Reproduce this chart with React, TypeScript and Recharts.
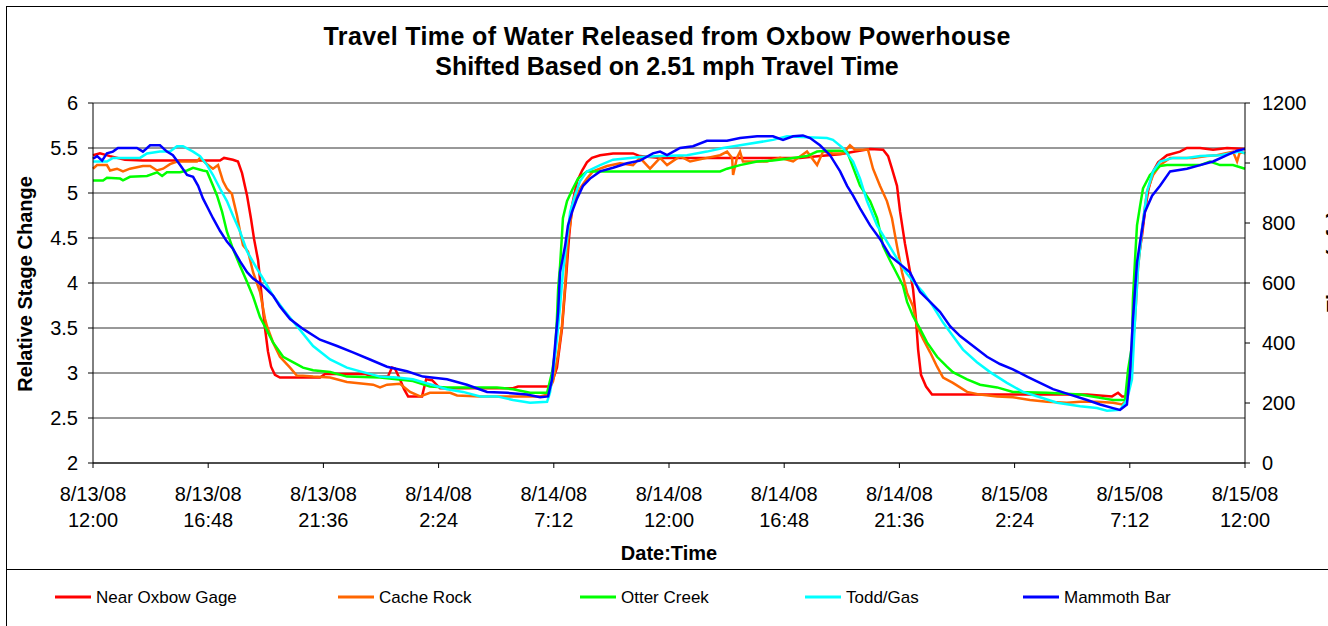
import React from 'react';
import { LineChart, Line, XAxis, YAxis, CartesianGrid } from 'recharts';

// hours after 8/13/08 12:00, relative stage change
const nearOxbowGage: [number, number][] = [
  [0, 5.42], [0.29, 5.44], [0.71, 5.41], [1.33, 5.37], [2.08, 5.36], [5.29, 5.36], [5.46, 5.39], [5.83, 5.37],
  [6.04, 5.35], [6.21, 5.22], [6.42, 4.97], [6.58, 4.72], [6.71, 4.49], [6.88, 4.25], [7.0, 3.93], [7.08, 3.71],
  [7.17, 3.49], [7.29, 3.24], [7.42, 3.07], [7.58, 2.98], [7.79, 2.95], [9.46, 2.95], [9.67, 2.99], [11.33, 2.99],
  [11.63, 2.96], [12.29, 2.96], [12.46, 3.06], [12.58, 3.05], [12.79, 2.93], [12.96, 2.82], [13.13, 2.74],
  [13.71, 2.74], [13.88, 2.93], [14.13, 2.92], [14.46, 2.83], [17.5, 2.83], [17.71, 2.85], [19.04, 2.85],
  [19.17, 2.93], [19.33, 3.06], [19.54, 3.49], [19.71, 4.05], [19.83, 4.49], [19.96, 4.86], [20.17, 5.13],
  [20.38, 5.25], [20.58, 5.34], [20.79, 5.39], [21.13, 5.42], [21.67, 5.44], [22.5, 5.44], [22.79, 5.41],
  [23.63, 5.39], [29.46, 5.39], [30.29, 5.41], [31.13, 5.43], [31.75, 5.46], [32.38, 5.49], [32.92, 5.48],
  [33.13, 5.41], [33.29, 5.27], [33.5, 5.08], [33.63, 4.79], [33.83, 4.44], [34.04, 4.13], [34.17, 3.93],
  [34.29, 3.6], [34.38, 3.26], [34.5, 2.98], [34.71, 2.85], [34.96, 2.76], [41.42, 2.76], [42.46, 2.74],
  [42.71, 2.78], [42.88, 2.74], [43.04, 2.74], [43.17, 2.87], [43.29, 3.23], [43.42, 3.74], [43.54, 4.23],
  [43.71, 4.53], [43.83, 4.79], [43.96, 5.02], [44.17, 5.24], [44.38, 5.34], [44.75, 5.42], [45.29, 5.46],
  [45.58, 5.5], [46.13, 5.5], [46.67, 5.48], [47.25, 5.5], [48, 5.49],
];

const cacheRock: [number, number][] = [
  [0, 5.27], [0.17, 5.31], [0.58, 5.31], [0.71, 5.25], [1.0, 5.27], [1.25, 5.24], [1.54, 5.27], [2.08, 5.3],
  [2.38, 5.3], [2.67, 5.25], [2.92, 5.27], [3.21, 5.32], [3.5, 5.35], [4.33, 5.35], [4.46, 5.39], [4.75, 5.32],
  [5.0, 5.27], [5.21, 5.31], [5.29, 5.24], [5.42, 5.13], [5.58, 5.05], [5.79, 4.99], [5.83, 4.94], [6.0, 4.75],
  [6.13, 4.57], [6.25, 4.42], [6.46, 4.35], [6.67, 4.12], [6.96, 3.9], [7.17, 3.6], [7.25, 3.52], [7.5, 3.34],
  [7.79, 3.18], [8.21, 3.06], [8.5, 2.97], [8.75, 2.97], [9.17, 2.96], [9.88, 2.95], [10.58, 2.9], [11.67, 2.87],
  [11.96, 2.84], [12.25, 2.87], [12.79, 2.88], [13.21, 2.79], [13.63, 2.74], [14.04, 2.78], [14.88, 2.78],
  [15.17, 2.75], [16.13, 2.74], [18.63, 2.74], [18.92, 2.76], [19.17, 2.91], [19.38, 3.21], [19.54, 3.52],
  [19.67, 3.97], [19.79, 4.49], [20.0, 4.86], [20.29, 5.05], [20.58, 5.16], [20.83, 5.24], [21.42, 5.3],
  [21.96, 5.33], [22.5, 5.31], [22.79, 5.39], [23.21, 5.27], [23.63, 5.39], [23.92, 5.31], [24.46, 5.41],
  [24.88, 5.35], [25.58, 5.39], [26.13, 5.42], [26.42, 5.46], [26.63, 5.39], [26.67, 5.2], [26.83, 5.39],
  [26.96, 5.46], [27.08, 5.35], [27.5, 5.35], [28.08, 5.35], [28.63, 5.39], [29.17, 5.35], [29.75, 5.46],
  [30.17, 5.31], [30.42, 5.46], [30.83, 5.44], [31.25, 5.44], [31.54, 5.53], [31.75, 5.48], [32.29, 5.48],
  [32.5, 5.27], [32.79, 5.08], [33.08, 4.91], [33.29, 4.72], [33.5, 4.41], [33.71, 4.12], [33.92, 3.89],
  [34.17, 3.74], [34.33, 3.52], [34.58, 3.38], [34.88, 3.23], [35.17, 3.07], [35.42, 2.95], [35.83, 2.89],
  [36.42, 2.79], [36.96, 2.76], [37.67, 2.74], [38.33, 2.73], [39.04, 2.7], [39.75, 2.68], [40.58, 2.67],
  [41.13, 2.68], [41.83, 2.68], [42.5, 2.67], [42.88, 2.65], [43.08, 2.7], [43.13, 2.94], [43.29, 3.23],
  [43.42, 3.6], [43.54, 4.16], [43.71, 4.6], [43.92, 5.02], [44.17, 5.2], [44.46, 5.31], [44.88, 5.39],
  [45.83, 5.39], [46.42, 5.41], [46.83, 5.42], [47.5, 5.46], [47.67, 5.35], [47.79, 5.46], [48, 5.44],
];

const otterCreek: [number, number][] = [
  [0, 5.14], [0.42, 5.14], [0.58, 5.17], [1.13, 5.16], [1.25, 5.14], [1.54, 5.18], [2.25, 5.19], [2.67, 5.23],
  [2.88, 5.19], [3.08, 5.23], [3.63, 5.23], [3.92, 5.25], [4.17, 5.28], [4.58, 5.25], [4.75, 5.24], [5.0, 5.08],
  [5.17, 4.97], [5.38, 4.79], [5.58, 4.57], [5.83, 4.38], [6.13, 4.19], [6.42, 4.01], [6.67, 3.85], [6.96, 3.62],
  [7.08, 3.56], [7.5, 3.34], [7.92, 3.18], [8.33, 3.12], [8.75, 3.06], [9.17, 3.03], [9.88, 3.01], [10.58, 2.96],
  [11.96, 2.95], [13.33, 2.91], [14.04, 2.85], [14.75, 2.84], [16.83, 2.84], [17.5, 2.82], [18.21, 2.78],
  [18.92, 2.78], [19.13, 3.01], [19.25, 3.23], [19.33, 3.6], [19.38, 3.93], [19.46, 4.19], [19.54, 4.53],
  [19.58, 4.72], [19.75, 4.91], [19.96, 5.03], [20.21, 5.16], [20.58, 5.24], [26.13, 5.24], [26.42, 5.27],
  [26.96, 5.31], [27.67, 5.35], [28.33, 5.36], [29.17, 5.39], [29.75, 5.41], [30.17, 5.46], [30.58, 5.47],
  [31.13, 5.47], [31.42, 5.46], [31.96, 5.08], [32.38, 4.91], [32.67, 4.72], [32.92, 4.41], [33.21, 4.25],
  [33.5, 4.1], [33.75, 3.97], [33.92, 3.79], [34.17, 3.63], [34.46, 3.49], [34.75, 3.34], [35.17, 3.18],
  [35.58, 3.07], [35.83, 3.01], [36.42, 2.93], [36.96, 2.87], [37.67, 2.84], [38.33, 2.79], [39.75, 2.78],
  [41.13, 2.76], [41.83, 2.73], [42.5, 2.7], [43.0, 2.7], [43.13, 3.04], [43.29, 3.3], [43.33, 3.82],
  [43.42, 4.27], [43.5, 4.64], [43.63, 4.86], [43.75, 5.05], [44.04, 5.2], [44.46, 5.3], [44.75, 5.31],
  [46.13, 5.31], [46.54, 5.35], [46.96, 5.31], [47.5, 5.31], [48, 5.27],
];

const toddGas: [number, number][] = [
  [0, 5.35], [0.58, 5.35], [0.83, 5.39], [1.96, 5.39], [2.25, 5.44], [2.79, 5.46], [3.21, 5.46], [3.5, 5.52],
  [3.75, 5.52], [4.17, 5.46], [4.46, 5.41], [4.75, 5.31], [5.0, 5.2], [5.29, 5.05], [5.58, 4.91], [5.83, 4.75],
  [6.13, 4.57], [6.42, 4.35], [6.83, 4.16], [7.08, 4.05], [7.5, 3.86], [7.92, 3.71], [8.5, 3.52], [9.17, 3.3],
  [9.88, 3.15], [10.58, 3.06], [11.25, 3.01], [11.96, 2.96], [12.67, 2.95], [13.33, 2.93], [14.75, 2.82],
  [15.42, 2.79], [16.13, 2.74], [16.83, 2.74], [17.5, 2.7], [18.21, 2.67], [18.92, 2.68], [19.04, 2.78],
  [19.17, 3.01], [19.33, 3.37], [19.46, 3.74], [19.58, 4.12], [19.75, 4.49], [19.88, 4.79], [20.08, 4.97],
  [20.29, 5.13], [20.58, 5.24], [21.13, 5.31], [21.67, 5.37], [22.79, 5.4], [23.63, 5.41], [24.75, 5.42],
  [25.58, 5.46], [26.25, 5.5], [26.96, 5.53], [28.33, 5.59], [28.92, 5.63], [29.75, 5.62], [30.58, 5.61],
  [30.83, 5.59], [31.25, 5.5], [31.67, 5.35], [31.96, 5.16], [32.25, 4.91], [32.67, 4.64], [33.08, 4.46],
  [33.5, 4.27], [33.92, 4.1], [34.17, 4.02], [34.58, 3.9], [35.0, 3.74], [35.42, 3.56], [35.83, 3.41],
  [36.25, 3.26], [36.83, 3.12], [37.38, 3.01], [38.08, 2.89], [38.75, 2.79], [39.46, 2.73], [40.17, 2.67],
  [41.13, 2.63], [41.83, 2.61], [42.25, 2.58], [42.79, 2.59], [43.0, 2.67], [43.08, 2.7], [43.29, 2.93],
  [43.42, 3.6], [43.54, 4.16], [43.71, 4.6], [43.92, 5.02], [44.17, 5.24], [44.46, 5.35], [45.0, 5.39],
  [45.58, 5.39], [46.13, 5.41], [46.96, 5.42], [47.79, 5.46], [48, 5.44],
];

const mammothBar: [number, number][] = [
  [0, 5.38], [0.17, 5.41], [0.38, 5.36], [0.58, 5.44], [0.83, 5.46], [1.04, 5.5], [1.83, 5.5], [2.08, 5.46],
  [2.38, 5.53], [2.79, 5.53], [3.08, 5.46], [3.33, 5.42], [3.63, 5.31], [3.92, 5.2], [4.17, 5.18], [4.38, 5.08],
  [4.58, 4.94], [4.79, 4.83], [5.0, 4.72], [5.29, 4.58], [5.58, 4.46], [5.83, 4.38], [6.13, 4.24], [6.42, 4.12],
  [6.67, 4.05], [7.08, 3.97], [7.5, 3.86], [7.79, 3.74], [8.21, 3.6], [8.75, 3.49], [9.46, 3.37], [10.17, 3.3],
  [10.83, 3.23], [11.54, 3.15], [12.25, 3.07], [13.08, 3.02], [13.75, 2.96], [14.75, 2.93], [15.58, 2.87],
  [16.42, 2.79], [17.25, 2.78], [18.08, 2.76], [18.63, 2.73], [18.96, 2.74], [19.13, 2.93], [19.25, 3.3],
  [19.38, 3.68], [19.46, 4.12], [19.67, 4.41], [19.79, 4.64], [19.96, 4.79], [20.17, 4.94], [20.42, 5.08],
  [20.71, 5.16], [21.13, 5.24], [21.67, 5.28], [22.25, 5.33], [22.79, 5.36], [23.33, 5.44], [23.63, 5.46],
  [23.92, 5.42], [24.46, 5.5], [25.0, 5.52], [25.58, 5.58], [26.42, 5.58], [26.96, 5.61], [27.67, 5.63],
  [28.33, 5.63], [28.75, 5.59], [29.17, 5.63], [29.58, 5.64], [29.88, 5.61], [30.29, 5.53], [30.71, 5.42],
  [31.13, 5.24], [31.42, 5.08], [31.67, 4.97], [31.96, 4.83], [32.38, 4.64], [32.79, 4.49], [33.21, 4.3],
  [33.63, 4.21], [34.04, 4.12], [34.46, 3.9], [34.88, 3.79], [35.29, 3.68], [35.71, 3.52], [36.13, 3.41],
  [36.67, 3.3], [37.25, 3.18], [37.79, 3.1], [38.33, 3.04], [38.92, 2.96], [39.46, 2.89], [40.0, 2.82],
  [40.71, 2.76], [41.42, 2.7], [41.96, 2.65], [42.5, 2.61], [42.79, 2.59], [43.08, 2.65], [43.21, 3.01],
  [43.33, 3.6], [43.5, 4.23], [43.63, 4.46], [43.83, 4.79], [44.13, 4.97], [44.46, 5.08], [44.88, 5.24],
  [45.58, 5.27], [46.13, 5.31], [46.67, 5.35], [47.25, 5.42], [47.67, 5.47], [48, 5.49],
];

const seriesNames = ['Near Oxbow Gage', 'Cache Rock', 'Otter Creek', 'Todd/Gas', 'Mammoth Bar'];
const seriesColors = ['#FF0000', '#FF6600', '#00FF00', '#00FFFF', '#0000FF'];
const seriesData = [nearOxbowGage, cacheRock, otterCreek, toddGas, mammothBar];

const xTicks = [0, 4.8, 9.6, 14.4, 19.2, 24, 28.8, 33.6, 38.4, 43.2, 48];
const xTickDates = ['8/13/08', '8/13/08', '8/13/08', '8/14/08', '8/14/08', '8/14/08', '8/14/08', '8/14/08', '8/15/08', '8/15/08', '8/15/08'];
const xTickTimes = ['12:00', '16:48', '21:36', '2:24', '7:12', '12:00', '16:48', '21:36', '2:24', '7:12', '12:00'];
const leftTicks = [2, 2.5, 3, 3.5, 4, 4.5, 5, 5.5, 6];
const rightTicks = [0, 200, 400, 600, 800, 1000, 1200];
const rightDomain: [number, number] = [0, 1200];
const noFlowData: { h: number; q: number }[] = [];

const titleLines = ['Travel Time of Water Released from Oxbow Powerhouse', 'Shifted Based on 2.51 mph Travel Time'];
const legendPositions = [55, 338, 580, 805, 1023];

const FONT = '"Liberation Sans", Arial, sans-serif';

const XTick = (props: any) => {
  const { x, y, payload } = props;
  const i = xTicks.findIndex((t) => Math.abs(t - payload.value) < 1e-6);
  return (
    <g>
      <text x={x} y={y + 31} textAnchor="middle" fontSize={20} fill="#000" fontFamily={FONT}>
        {xTickDates[i]}
      </text>
      <text x={x} y={y + 57} textAnchor="middle" fontSize={20} fill="#000" fontFamily={FONT}>
        {xTickTimes[i]}
      </text>
    </g>
  );
};

export default function App() {
  return (
    <div style={{ position: 'relative', width: 1328, height: 626, overflow: 'hidden', background: '#fff', fontFamily: FONT }}>
      <style>{'body{margin:0;}'}</style>
      <LineChart width={1328} height={626} margin={{ top: 103, right: 13, bottom: 103, left: 13 }}>
        <CartesianGrid yAxisId="left" vertical={false} stroke="#333333" strokeWidth={1} />
        <XAxis
          dataKey="h"
          type="number"
          domain={[0, 48]}
          ticks={xTicks}
          height={60}
          tick={<XTick />}
          tickSize={5}
          stroke="#000"
          allowDuplicatedCategory={false}
          interval={0}
        />
        <YAxis
          yAxisId="left"
          type="number"
          domain={[2, 6]}
          ticks={leftTicks}
          width={80}
          tickSize={5}
          tickMargin={10}
          stroke="#000"
          tick={{ fontSize: 20, fill: '#000', fontFamily: FONT }}
          interval={0}
        />
        <YAxis
          yAxisId="right"
          orientation="right"
          type="number"
          domain={rightDomain}
          allowDataOverflow
          ticks={rightTicks}
          width={70}
          tickSize={5}
          tickMargin={12}
          stroke="#000"
          tick={{ fontSize: 20, fill: '#000', fontFamily: FONT, textAnchor: 'start' }}
          interval={0}
        />
        <Line
          yAxisId="right"
          data={noFlowData}
          dataKey="q"
          stroke="none"
          dot={false}
          activeDot={false}
          legendType="none"
          isAnimationActive={false}
        />
        {seriesData.map((arr, i) => (
          <Line
            key={seriesNames[i]}
            yAxisId="left"
            name={seriesNames[i]}
            data={arr.map(([h, v]) => ({ h, v }))}
            dataKey="v"
            type="linear"
            stroke={seriesColors[i]}
            strokeWidth={2.5}
            dot={false}
            activeDot={false}
            isAnimationActive={false}
          />
        ))}
      </LineChart>
      <svg width={1328} height={626} style={{ position: 'absolute', left: 0, top: 0, pointerEvents: 'none' }}>
        <rect x={6.5} y={6.5} width={1340} height={640} fill="none" stroke="#000" strokeWidth={1} />
        <line x1={6} x2={1328} y1={569.5} y2={569.5} stroke="#000" strokeWidth={1} />
        <text x={667} y={45} textAnchor="middle" fontSize={25} fontWeight="bold" fontFamily={FONT} textLength={687} lengthAdjust="spacing">{titleLines[0]}</text>
        <text x={667} y={75} textAnchor="middle" fontSize={25} fontWeight="bold" fontFamily={FONT}>{titleLines[1]}</text>
        <text x={669} y={560} textAnchor="middle" fontSize={20} fontWeight="bold" fontFamily={FONT}>Date:Time</text>
        <text transform="translate(32,284) rotate(-90)" textAnchor="middle" fontSize={20} fontWeight="bold" fontFamily={FONT}>Relative Stage Change</text>
        <text transform="translate(1342,262) rotate(-90)" textAnchor="middle" fontSize={22} fontWeight="bold" fontFamily={FONT}>Flow (cfs)</text>
        {seriesNames.map((n, i) => (
          <g key={n}>
            <line x1={legendPositions[i]} x2={legendPositions[i] + 36} y1={597} y2={597} stroke={seriesColors[i]} strokeWidth={3} />
            <text x={legendPositions[i] + 41} y={603} fontSize={17} fontFamily={FONT}>{n}</text>
          </g>
        ))}
      </svg>
    </div>
  );
}
